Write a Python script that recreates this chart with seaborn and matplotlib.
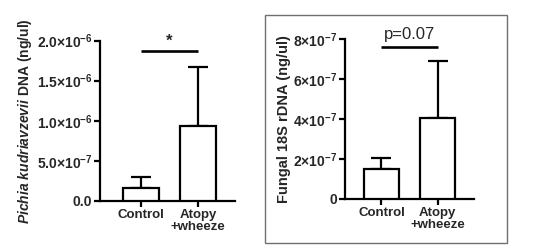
import matplotlib
matplotlib.use("Agg")
import matplotlib.pyplot as plt
import seaborn as sns
import pandas as pd
from matplotlib.patches import Rectangle

# ---- data ----
categories = ["Control", "Atopy\n+wheeze"]
pichia_mean = [1.6e-7, 9.4e-7]
pichia_sem = [1.36e-7, 7.3e-7]
fungal_mean = [1.48e-7, 4.07e-7]
fungal_sem = [0.59e-7, 2.83e-7]

pichia_ticks = [0, 5e-7, 1e-6, 1.5e-6, 2e-6]
pichia_ticklabels = ["0.0", "5.0×10$^{-7}$", "1.0×10$^{-6}$", "1.5×10$^{-6}$", "2.0×10$^{-6}$"]
fungal_ticks = [0, 2e-7, 4e-7, 6e-7, 8e-7]
fungal_ticklabels = ["0", "2×10$^{-7}$", "4×10$^{-7}$", "6×10$^{-7}$", "8×10$^{-7}$"]

pichia_sig_y = 1.87e-6
pichia_sig_text = "*"
fungal_sig_y = 7.6e-7
fungal_sig_text = "p=0.07"

pichia_ylabel = r"$\mathit{Pichia\ kudriavzevii}$ DNA (ng/ul)"
fungal_ylabel = "Fungal 18S rDNA (ng/ul)"

# ---- style ----
sns.set_style("white")
plt.rcParams["font.family"] = ["Liberation Sans", "DejaVu Sans"]
plt.rcParams["font.weight"] = "bold"
plt.rcParams["mathtext.fontset"] = "custom"
plt.rcParams["mathtext.rm"] = "Liberation Sans:bold"
plt.rcParams["mathtext.bf"] = "Liberation Sans:bold"
plt.rcParams["mathtext.it"] = "Liberation Sans:bold:italic"
plt.rcParams["mathtext.default"] = "rm"

W, H = 535, 245
fig = plt.figure(figsize=(W / 100, H / 100), dpi=100)
fig.patch.set_facecolor("white")

# Right panel frame
fig.patches.append(Rectangle((265 / W, 1 - 243 / H), (507 - 265) / W, (243 - 15) / H,
                             transform=fig.transFigure, fill=False,
                             edgecolor="#707070", linewidth=1.0))

LW = 1.6

def panel(rect, means, sems, ticks, ticklabels, xlim, ylabel, ylabel_fs,
          sig_y, sig_text, sig_bold, sig_fs, sig_offset, ylabel_pad):
    ax = fig.add_axes(rect)
    df = pd.DataFrame({"group": categories, "value": means})
    sns.barplot(data=df, x="group", y="value", ax=ax, color="white",
                edgecolor="black", linewidth=LW, width=0.63, errorbar=None,
                zorder=3)
    xs = list(range(len(categories)))
    ax.errorbar(xs, means, yerr=[[0] * len(sems), sems], fmt="none",
                ecolor="black", elinewidth=LW, capsize=7.2, capthick=LW,
                zorder=2)
    ax.set_xlim(*xlim)
    ax.set_ylim(0, ticks[-1])
    ax.set_yticks(ticks)
    ax.set_yticklabels(ticklabels, fontsize=10, fontweight="bold")
    ax.set_xticks(xs)
    ax.set_xticklabels(categories, fontsize=9.5, fontweight="bold", linespacing=1.05)
    ax.set_xlabel("")
    ax.set_ylabel(ylabel, fontsize=ylabel_fs, fontweight="bold", labelpad=ylabel_pad)
    for s in ["top", "right"]:
        ax.spines[s].set_visible(False)
    for s in ["left", "bottom"]:
        ax.spines[s].set_linewidth(LW)
        ax.spines[s].set_color("black")
    ax.spines["left"].set_bounds(0, ticks[-1])
    ax.tick_params(axis="both", direction="out", length=4, width=LW,
                   color="black", pad=1.5, left=True, bottom=True)
    ax.set_facecolor("none")
    # significance
    ax.plot([0.0, 1.0], [sig_y, sig_y], color="black", lw=LW + 0.3,
            clip_on=False, solid_capstyle="butt")
    ax.text(0.5, sig_y + sig_offset, sig_text, ha="center", va="bottom",
            fontsize=sig_fs, fontweight="bold" if sig_bold else "normal",
            clip_on=False)
    return ax

panel([100 / W, 1 - 201 / H, 135 / W, 160.5 / H], pichia_mean, pichia_sem,
      pichia_ticks, pichia_ticklabels, (-0.72, 1.65), pichia_ylabel, 10,
      pichia_sig_y, pichia_sig_text, True, 12, 0.03e-6, 2)
panel([345 / W, 1 - 199 / H, 129 / W, 160 / H], fungal_mean, fungal_sem,
      fungal_ticks, fungal_ticklabels, (-0.65, 1.65), fungal_ylabel, 10.5,
      fungal_sig_y, fungal_sig_text, False, 12, 0.25e-7, 2)

fig.savefig("out.png", dpi=100)
